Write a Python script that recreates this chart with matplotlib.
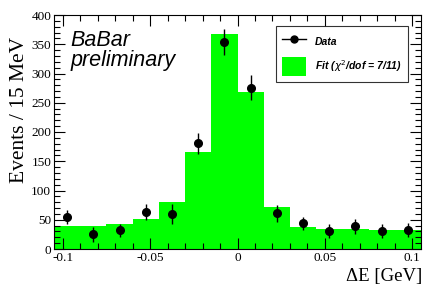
import numpy as np
import matplotlib
matplotlib.use("Agg")
import matplotlib.pyplot as plt
from matplotlib.lines import Line2D
from matplotlib.patches import Patch
from matplotlib.ticker import MultipleLocator

# ---- data ----
bin_edges = [-0.105, -0.09, -0.075, -0.06, -0.045, -0.03, -0.015, 0.0,
             0.015, 0.03, 0.045, 0.06, 0.075, 0.09, 0.105]
fit_values = [40, 40, 42, 52, 80, 165, 367, 268, 71, 37, 34, 34, 33, 33]
data_values = [54, 25, 32, 63, 60, 181, 354, 276, 61, 44, 31, 39, 31, 32]
data_errors = [12, 13, 11, 14, 17, 18, 22, 21, 15, 11, 12, 13, 12, 12]
x_ticks = [-0.1, -0.05, 0, 0.05, 0.1]
x_ticklabels = ["-0.1", "-0.05", "0", "0.05", "0.1"]
y_ticks = [0, 50, 100, 150, 200, 250, 300, 350, 400]

edges = np.array(bin_edges)
centers = 0.5 * (edges[:-1] + edges[1:])
widths = np.diff(edges)

fig = plt.figure(figsize=(4.36, 2.97), dpi=100)
ax = fig.add_axes([54/436, 1-249/297, (421-54)/436, (249-15)/297])

ax.bar(edges[:-1], fit_values, width=widths, align="edge", color="#00ff00",
       edgecolor="none", linewidth=0, zorder=1)
ax.errorbar(centers, data_values, yerr=data_errors, fmt="o", color="black",
            markersize=5.5, elinewidth=1, capsize=0, zorder=3)

ax.set_xlim(-0.105, 0.105)
ax.set_ylim(0, 400)
ax.set_xticks(x_ticks)
ax.set_xticklabels(x_ticklabels)
ax.set_yticks(y_ticks)
ax.xaxis.set_minor_locator(MultipleLocator(0.01))
ax.yaxis.set_minor_locator(MultipleLocator(10))
ax.tick_params(which="both", direction="in", top=True, right=True,
               labeltop=False, labelright=False, width=0.8, color="black")
ax.tick_params(which="major", length=8)
ax.tick_params(which="minor", length=4)
ax.tick_params(axis="both", labelsize=9.5, pad=2)
for lab in ax.get_xticklabels() + ax.get_yticklabels():
    lab.set_fontfamily("Liberation Serif")
for sp in ax.spines.values():
    sp.set_linewidth(0.8)

fig.text(19/436, 1-110/297, "Events / 15 MeV", rotation=90, ha="center",
         va="center", fontsize=15.5, family="Liberation Serif")
fig.text(422/436, 1-277/297, "\u0394E [GeV]", ha="right", va="center",
         fontsize=13.5, family="Liberation Serif")

ax.text(0.045, 0.935, "BaBar\npreliminary", transform=ax.transAxes,
        ha="left", va="top", fontsize=15.5, style="italic",
        family="Liberation Sans", linespacing=0.95)

handles = [Line2D([0], [0], color="black", marker="o", markersize=5, lw=1),
           Patch(facecolor="#00ff00", edgecolor="none")]
labels = ["Data", "Fit ($\\chi^2$/dof = 7/11)"]
leg = ax.legend(handles, labels, loc="upper left",
                bbox_to_anchor=((276-54)/367, 1-(26-15)/234),
                frameon=True, fancybox=False, edgecolor="black",
                prop={"family": "Liberation Sans", "style": "italic",
                      "weight": "bold", "size": 7.5},
                handlelength=2.3, handleheight=2.4, borderpad=0.6,
                labelspacing=0.6, handletextpad=0.8, borderaxespad=0)
leg.get_frame().set_linewidth(0.8)

fig.savefig("out.png", dpi=100)
